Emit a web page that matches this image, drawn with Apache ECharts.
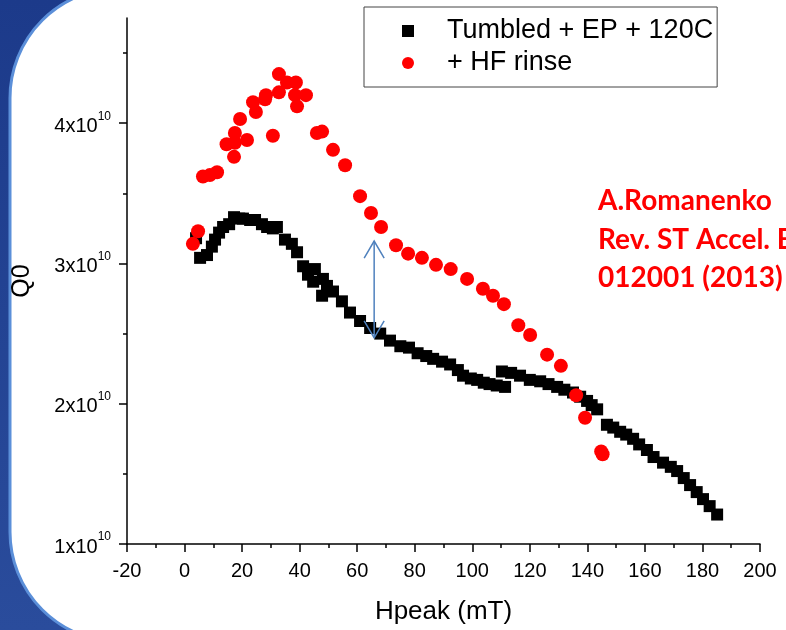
<!DOCTYPE html>
<html><head><meta charset="utf-8">
<script src="https://cdn.jsdelivr.net/npm/echarts@6/dist/echarts.min.js"></script>
<style>html,body{margin:0;padding:0;background:#fff}#c{width:786px;height:630px}</style>
</head><body><div id="c"></div>
<script>
// ---- data (Hpeak in mT, Q0) ----
const tumbledName = 'Tumbled + EP + 120C';
const hfName = '+ HF rinse';
const tumbledH = [4.0,5.4,7.8,9.5,10.6,12.0,13.4,15.5,17.2,19.0,20.3,22.8,24.5,26.9,28.7,30.7,32.1,34.9,37.3,39.1,41.2,42.9,44.7,45.3,47.8,48.1,49.5,51.6,54.7,57.5,61.0,64.5,68.0,71.4,75.0,78.0,81.0,84.0,86.4,89.5,92.3,95.0,96.8,99.5,101.7,104.0,106.0,108.5,111.4,110.3,113.5,116.6,120.0,123.6,126.5,129.5,132.0,135.0,137.5,139.9,141.5,143.4,146.8,149.0,151.4,153.5,155.9,158.0,160.7,163.0,166.3,169.0,171.2,173.5,175.7,178.0,180.2,182.5,185.1];
const tumbledQ = [3.18e10,3.04e10,3.06e10,3.12e10,3.17e10,3.22e10,3.26e10,3.28e10,3.33e10,3.32e10,3.32e10,3.31e10,3.31e10,3.28e10,3.26e10,3.25e10,3.26e10,3.17e10,3.14e10,3.08e10,2.98e10,2.92e10,2.87e10,2.96e10,2.77e10,2.89e10,2.84e10,2.80e10,2.73e10,2.65e10,2.59e10,2.54e10,2.50e10,2.45e10,2.41e10,2.40e10,2.36e10,2.34e10,2.32e10,2.30e10,2.28e10,2.24e10,2.20e10,2.18e10,2.17e10,2.15e10,2.14e10,2.13e10,2.12e10,2.23e10,2.22e10,2.20e10,2.17e10,2.16e10,2.14e10,2.12e10,2.10e10,2.08e10,2.05e10,2.02e10,1.99e10,1.96e10,1.85e10,1.83e10,1.80e10,1.78e10,1.75e10,1.71e10,1.67e10,1.62e10,1.58e10,1.55e10,1.52e10,1.47e10,1.42e10,1.37e10,1.32e10,1.27e10,1.21e10];
const hfH = [2.9,4.7,6.4,8.8,11.3,14.6,17.2,17.5,17.5,19.3,21.7,23.8,24.8,28.0,28.3,30.7,32.8,32.8,35.6,38.4,38.7,39.1,42.2,46.0,47.8,51.6,55.8,61.0,64.8,68.3,73.5,77.7,82.5,87.4,92.5,98.2,103.7,107.2,111.0,116.0,120.1,126.0,130.8,136.1,139.2,144.8,145.3];
const hfQ = [3.14e10,3.23e10,3.62e10,3.63e10,3.65e10,3.85e10,3.76e10,3.86e10,3.93e10,4.03e10,3.88e10,4.15e10,4.08e10,4.17e10,4.20e10,3.91e10,4.22e10,4.35e10,4.29e10,4.20e10,4.29e10,4.12e10,4.20e10,3.93e10,3.94e10,3.81e10,3.70e10,3.48e10,3.36e10,3.26e10,3.13e10,3.07e10,3.04e10,2.99e10,2.96e10,2.89e10,2.82e10,2.77e10,2.71e10,2.56e10,2.49e10,2.35e10,2.27e10,2.06e10,1.90e10,1.66e10,1.64e10];
const arrowH = [65.9];
const arrowQ = [3.16e10, 2.47e10];
const yTickValues = [1e10, 2e10, 3e10, 4e10];
const noteLines = ['A.Romanenko', 'Rev. ST Accel. Beams 16,', '012001 (2013)'];

const zip = (a, b) => a.map((v, i) => [v, b[i]]);
const FONT = 'Liberation Sans, Arial, sans-serif';
const noteStyle = (t, y) => ({type: 'text', z: 10, style: {text: t, x: 598, y: y, fill: '#ff0000', fontSize: 28, fontWeight: 'bold', fontFamily: 'Lato, sans-serif', verticalAlign: 'middle'}});

const chart = echarts.init(document.getElementById('c'));
chart.setOption({
  animation: false,
  grid: {left: 127, right: 26, top: 18, bottom: 85},
  graphic: [
    {type: 'rect', z: -20, shape: {x: 0, y: 0, width: 140, height: 630},
     style: {fill: new echarts.graphic.LinearGradient(0, 0, 0, 1, [{offset: 0, color: '#1c3a8a'}, {offset: 1, color: '#2a4c9c'}])}},
    {type: 'rect', z: -19, shape: {x: 10, y: -12, width: 900, height: 654, r: 110},
     style: {fill: '#fff', stroke: '#5b8fd9', lineWidth: 3}},
    noteStyle(noteLines[0], 201),
    noteStyle(noteLines[1], 240),
    noteStyle(noteLines[2], 278)
  ],
  legend: {
    left: 364, top: 7, orient: 'vertical',
    padding: [10, 4, 10, 38], itemGap: 4, itemWidth: 12, itemHeight: 12,
    borderColor: '#444', borderWidth: 1, backgroundColor: '#fff',
    textStyle: {fontSize: 27, fontFamily: FONT, color: '#000', lineHeight: 28, padding: [0, 0, 0, 28]},
    data: [{name: tumbledName, icon: 'rect'}, {name: hfName, icon: 'circle'}]
  },
  xAxis: {
    type: 'value', min: -20, max: 200, interval: 20,
    name: 'Hpeak (mT)', nameLocation: 'middle', nameGap: 55,
    nameTextStyle: {fontSize: 26, fontFamily: FONT, color: '#000'},
    axisLine: {show: true, onZero: false, lineStyle: {color: '#000', width: 1.5}},
    axisTick: {show: true, length: 8, lineStyle: {color: '#000', width: 1.5}},
    minorTick: {show: true, splitNumber: 2, length: 4, lineStyle: {color: '#000', width: 1.5}},
    axisLabel: {fontSize: 20, fontFamily: FONT, color: '#000', margin: 17},
    splitLine: {show: false}
  },
  yAxis: {
    type: 'value', min: 1e10, max: 4.75e10, interval: 1e10,
    name: 'Q0', nameLocation: 'middle', nameGap: 92,
    nameTextStyle: {fontSize: 25, fontFamily: FONT, color: '#000'},
    axisLine: {show: true, onZero: false, lineStyle: {color: '#000', width: 1.5}},
    axisTick: {show: true, length: 8, customValues: yTickValues, lineStyle: {color: '#000', width: 1.5}},
    minorTick: {show: true, splitNumber: 2, length: 4, lineStyle: {color: '#000', width: 1.5}},
    axisLabel: {
      customValues: yTickValues, margin: 16,
      formatter: v => '{m|' + Math.round(v / 1e10) + 'x10}{s|10}',
      rich: {
        m: {fontSize: 20, fontFamily: FONT, color: '#000', lineHeight: 26, verticalAlign: 'bottom'},
        s: {fontSize: 12, fontFamily: FONT, color: '#000', lineHeight: 12, verticalAlign: 'top'}
      }
    },
    splitLine: {show: false}
  },
  series: [
    {name: tumbledName, type: 'scatter', symbol: 'rect', symbolSize: 12, itemStyle: {color: '#000', opacity: 1}, data: zip(tumbledH, tumbledQ), z: 3},
    {name: hfName, type: 'scatter', symbol: 'circle', symbolSize: 14, itemStyle: {color: '#ff0000', opacity: 1}, data: zip(hfH, hfQ), z: 4},
    {type: 'custom', z: 5, silent: true, data: [[arrowH[0], arrowQ[0], arrowQ[1]]],
     renderItem: (params, api) => {
       const top = api.coord([api.value(0), api.value(1)]);
       const bot = api.coord([api.value(0), api.value(2)]);
       const st = {stroke: '#4f81bd', lineWidth: 1.5, fill: 'none'};
       return {type: 'group', children: [
         {type: 'line', shape: {x1: top[0], y1: top[1], x2: bot[0], y2: bot[1]}, style: st},
         {type: 'polyline', shape: {points: [[top[0] - 10, top[1] + 17], top, [top[0] + 10, top[1] + 17]]}, style: st},
         {type: 'polyline', shape: {points: [[bot[0] - 10, bot[1] - 17], bot, [bot[0] + 10, bot[1] - 17]]}, style: st}
       ]};
     }}
  ]
});
</script>
</body></html>
